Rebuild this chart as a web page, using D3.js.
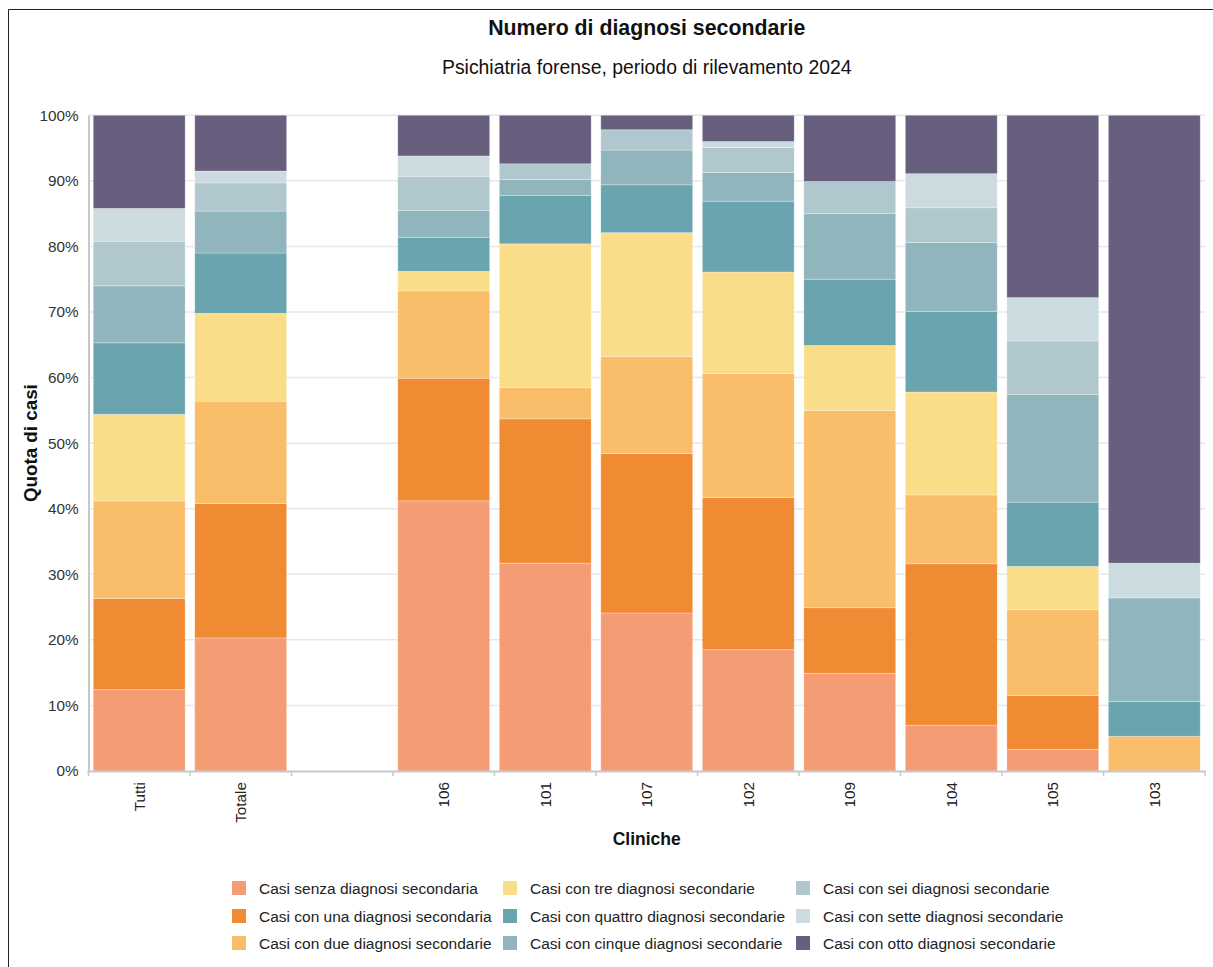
<!DOCTYPE html>
<html>
<head>
<meta charset="utf-8">
<script src="https://cdn.jsdelivr.net/npm/d3@7/dist/d3.min.js"></script>
<style>
  body { margin: 0; background: #fff; }
  svg { display: block; font-family: "Liberation Sans", Arial, sans-serif; }
</style>
</head>
<body>
<svg id="chart" width="1213" height="967"></svg>
<script>
const categories = ["Tutti", "Totale", "", "106", "101", "107", "102", "109", "104", "105", "103"];
const seriesNames = [
  "Casi senza diagnosi secondaria",
  "Casi con una diagnosi secondaria",
  "Casi con due diagnosi secondarie",
  "Casi con tre diagnosi secondarie",
  "Casi con quattro diagnosi secondarie",
  "Casi con cinque diagnosi secondarie",
  "Casi con sei diagnosi secondarie",
  "Casi con sette diagnosi secondarie",
  "Casi con otto diagnosi secondarie"
];
const seriesColors = ["#f49d74", "#f08a33", "#fabd6a", "#fadd89", "#6aa4ae", "#91b5bc", "#b0c8cd", "#ccdbe0", "#675f7d"];

const senza   = [12.4, 20.3, 0, 41.2, 31.7, 24.1, 18.5, 14.9,  7.0,  3.3,  0];
const una     = [13.9, 20.5, 0, 18.7, 22.0, 24.3, 23.2, 10.0, 24.6,  8.2,  0];
const due     = [14.9, 15.6, 0, 13.3,  4.8, 14.8, 18.9, 30.1, 10.5, 13.1,  5.3];
const tre     = [13.2, 13.4, 0,  3.0, 21.9, 18.9, 15.5,  9.9, 15.7,  6.6,  0];
const quattro = [10.9,  9.2, 0,  5.2,  7.4,  7.3, 10.8, 10.1, 12.3,  9.8,  5.3];
const cinque  = [ 8.7,  6.4, 0,  4.1,  2.4,  5.3,  4.4, 10.0, 10.5, 16.4, 15.8];
const sei     = [ 6.8,  4.3, 0,  5.2,  2.4,  3.1,  3.8,  4.9,  5.3,  8.2,  0];
const sette   = [ 5.0,  1.8, 0,  3.1,  0,    0,    0.9,  0,    5.2,  6.6,  5.3];
const otto    = [14.2,  8.5, 0,  6.2,  7.4,  2.2,  4.0, 10.1,  8.9, 27.8, 68.3];

const yTicks = [0, 10, 20, 30, 40, 50, 60, 70, 80, 90, 100];

(function () {
const seriesValues = [senza, una, due, tre, quattro, cinque, sei, sette, otto];
const table = categories.map((c, i) => {
  const row = { cat: c };
  seriesNames.forEach((s, j) => { row[s] = seriesValues[j][i]; });
  return row;
});

const svg = d3.select("#chart");
const pLeft = 88.5, pRight = 1205, pTop = 115.3, pBottom = 771;

// frame
svg.append("path").attr("d", `M8.5,967 V9.5 H1213`).attr("fill", "none").attr("stroke", "#222").attr("stroke-width", 1);

const x = d3.scaleBand().domain(categories).range([pLeft, pRight]).paddingInner(0.095).paddingOuter(0.047);
const y = d3.scaleLinear().domain([0, 100]).range([pBottom, pTop]);
const color = d3.scaleOrdinal().domain(seriesNames).range(seriesColors);

// grid
svg.append("g").selectAll("line").data(yTicks.filter(t => t > 0)).join("line")
  .attr("x1", pLeft).attr("x2", pRight)
  .attr("y1", d => y(d)).attr("y2", d => y(d))
  .attr("stroke", "#e8e8e8").attr("stroke-width", 1.5);

// bars
const stacked = d3.stack().keys(seriesNames)(table);
svg.append("g").selectAll("g").data(stacked).join("g")
  .attr("fill", d => color(d.key))
  .selectAll("rect").data(d => d.filter(p => p[1] - p[0] > 0)).join("rect")
  .attr("x", d => x(d.data.cat))
  .attr("width", x.bandwidth())
  .attr("y", d => y(d[1]))
  .attr("height", d => y(d[0]) - y(d[1]))
  .attr("stroke", "#ffffff").attr("stroke-opacity", 0.35).attr("stroke-width", 0.8);

// y axis
const yAxis = d3.axisLeft(y).tickValues(yTicks).tickFormat(d => d + "%").tickSize(0).tickPadding(10);
const gy = svg.append("g").attr("transform", `translate(${pLeft},0)`).call(yAxis);
gy.select(".domain").attr("stroke", "#c8c8c8").attr("stroke-width", 2);
gy.selectAll("text").attr("font-size", 15.3).attr("fill", "#333").attr("font-family", "Liberation Sans, Arial, sans-serif");

// x axis
const gx = svg.append("g").attr("transform", `translate(0,${pBottom})`);
gx.append("line").attr("x1", pLeft - 1).attr("x2", pRight + 1).attr("y1", 0.5).attr("y2", 0.5).attr("stroke", "#c8c8c8").attr("stroke-width", 2);
const step = x.step();
const tickPos = categories.map(c => x(c) - (step - x.bandwidth()) / 2).concat([pRight]);
gx.selectAll(".tk").data(tickPos).join("line").attr("class", "tk")
  .attr("x1", d => d).attr("x2", d => d).attr("y1", 0).attr("y2", 5)
  .attr("stroke", "#c8c8c8").attr("stroke-width", 1.5);
gx.selectAll(".lbl").data(categories).join("text").attr("class", "lbl")
  .attr("transform", d => `translate(${x(d) + x.bandwidth() / 2 + 5.5},11) rotate(-90)`)
  .attr("text-anchor", "end")
  .attr("font-size", 15.3).attr("fill", "#222")
  .text(d => d);

// titles
svg.append("text").attr("x", (pLeft + pRight) / 2).attr("y", 35).attr("text-anchor", "middle")
  .attr("font-size", 21.3).attr("font-weight", "bold").attr("fill", "#111").text("Numero di diagnosi secondarie");
svg.append("text").attr("x", (pLeft + pRight) / 2).attr("y", 74).attr("text-anchor", "middle")
  .attr("font-size", 19.4).attr("fill", "#111").text("Psichiatria forense, periodo di rilevamento 2024");
svg.append("text").attr("transform", `translate(37,${(pTop + pBottom) / 2}) rotate(-90)`).attr("text-anchor", "middle")
  .attr("font-size", 18.8).attr("font-weight", "bold").attr("fill", "#111").text("Quota di casi");
svg.append("text").attr("x", (pLeft + pRight) / 2).attr("y", 845).attr("text-anchor", "middle")
  .attr("font-size", 17.5).attr("font-weight", "bold").attr("fill", "#111").text("Cliniche");

// legend
const colX = [232, 503, 796];
const rowY = [888, 916, 943];
const lg = svg.append("g").selectAll("g").data(seriesNames).join("g")
  .attr("transform", (d, i) => `translate(${colX[Math.floor(i / 3)]},${rowY[i % 3]})`);
lg.append("rect").attr("x", 0).attr("y", -7).attr("width", 14).attr("height", 14).attr("fill", d => color(d));
lg.append("text").attr("x", 27).attr("y", 5.5).attr("font-size", 15.5).attr("fill", "#222").text(d => d);
})();
</script>
</body>
</html>
